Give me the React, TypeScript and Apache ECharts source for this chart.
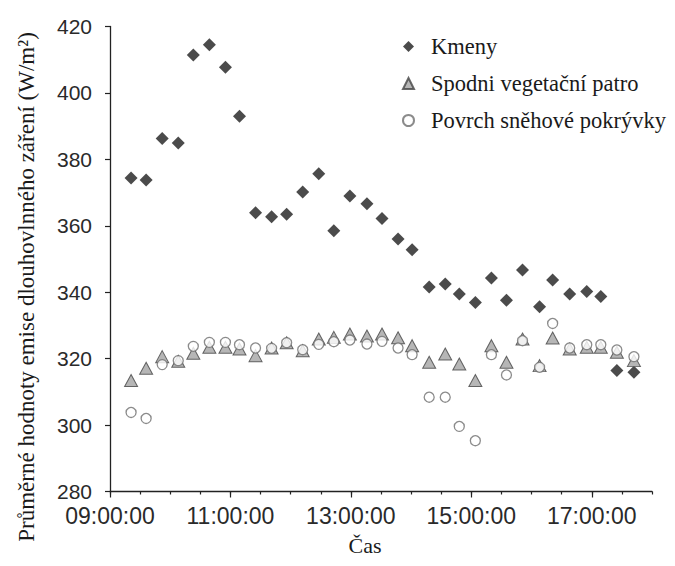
import React, { useEffect, useRef } from "react";
import * as echarts from "echarts";

// Measurement times (HH:MM)
const times = [
  "09:21", "09:36", "09:52", "10:08", "10:23", "10:39", "10:55", "11:09", "11:25", "11:41", "11:56",
  "12:12", "12:28", "12:43", "12:59", "13:16", "13:31", "13:47", "14:01", "14:18", "14:34", "14:48",
  "15:04", "15:20", "15:35", "15:51", "16:08", "16:21", "16:38", "16:55", "17:09", "17:25", "17:42",
];

// Mean long-wave emission (W/m²)
const kmeny = [
  374.4, 373.8, 386.3, 384.9, 411.4, 414.5, 407.7, 393.0, 363.9, 362.7, 363.5,
  370.2, 375.7, 358.5, 369.0, 366.6, 362.2, 356.0, 352.8, 341.6, 342.5, 339.5,
  336.9, 344.3, 337.6, 346.7, 335.6, 343.7, 339.5, 340.2, 338.7, 316.4, 315.9,
];
const spodniPatro = [
  313.4, 317.1, 320.6, 319.2, 321.6, 323.4, 323.4, 322.9, 320.9, 323.2, 324.8,
  322.4, 325.9, 326.4, 327.4, 326.8, 327.4, 326.3, 323.9, 318.9, 321.4, 318.4,
  313.4, 323.9, 318.9, 325.9, 317.9, 326.2, 322.9, 323.4, 323.4, 321.9, 319.4,
];
const povrchSnehu = [
  303.8, 302.0, 318.2, 319.4, 323.7, 324.9, 324.9, 324.2, 323.2, 323.1, 324.8,
  322.7, 324.3, 325.1, 325.6, 324.4, 325.2, 323.2, 321.2, 308.4, 308.4, 299.6,
  295.3, 321.2, 315.1, 325.4, 317.4, 330.6, 323.2, 324.2, 324.2, 322.6, 320.6,
];

const seriesNames = ["Kmeny", "Spodni vegetační patro", "Povrch sněhové pokrývky"];

// Axis ranges: minutes since midnight, W/m²
const xMin = 540; // 09:00
const xMax = 1080; // 18:00
const xLabelTicks = [540, 660, 780, 900, 1020];
const yMin = 280;
const yMax = 420;
const yStep = 20;

const toMinutes = (t: string) => {
  const [h, m] = t.split(":").map(Number);
  return h * 60 + m;
};
const pad2 = (n: number) => String(n).padStart(2, "0");
const fmtTime = (v: number) => `${pad2(Math.floor(v / 60))}:${pad2(v % 60)}:00`;

const pairs = (vals: number[]) => vals.map((v, i) => [toMinutes(times[i]), v]);

const SERIF = "'Liberation Serif', 'DejaVu Serif', serif";
const SANS = "'Liberation Sans', Arial, sans-serif";

export default function App() {
  const ref = useRef<HTMLDivElement>(null);

  useEffect(() => {
    if (!ref.current) return;
    const chart = echarts.init(ref.current, null, { renderer: "svg" });
    chart.setOption({
      animation: false,
      backgroundColor: "#ffffff",
      grid: { left: 110, right: 23, top: 26.5, bottom: 74.5 },
      legend: {
        orient: "vertical",
        left: 397,
        top: 30,
        itemGap: 14,
        itemWidth: 11,
        itemHeight: 11,
        data: seriesNames,
        textStyle: { fontFamily: SERIF, fontSize: 22.5, color: "#1a1a1a", padding: [0, 0, 0, 12] },
      },
      xAxis: [
        {
          type: "value",
          position: "bottom",
          min: xMin,
          max: xMax,
          interval: 30,
          name: "Čas",
          nameLocation: "middle",
          nameGap: 43,
          nameTextStyle: { fontFamily: SERIF, fontSize: 22, color: "#1a1a1a", padding: [0, 32, 0, 0] },
          axisLine: { lineStyle: { color: "#222", width: 1.3 } },
          axisTick: { length: 3, lineStyle: { color: "#222", width: 1.2 } },
          axisLabel: {
            customValues: xLabelTicks,
            formatter: (v: number) => fmtTime(v),
            fontFamily: SANS,
            fontSize: 23,
            lineHeight: 22,
            color: "#2a2a2a",
            margin: 13,
          },
          splitLine: { show: false },
        },
        {
          type: "value",
          position: "bottom",
          min: xMin,
          max: xMax,
          interval: 120,
          axisLine: { show: false },
          axisTick: { customValues: xLabelTicks, length: 6, lineStyle: { color: "#222", width: 1.2 } },
          axisLabel: { show: false },
          splitLine: { show: false },
        },
      ],
      yAxis: {
        type: "value",
        min: yMin,
        max: yMax,
        interval: yStep,
        name: "Průměrné hodnoty emise dlouhovlnného záření (W/m²)",
        nameLocation: "middle",
        nameRotate: 90,
        nameGap: 72,
        nameTextStyle: { fontFamily: SERIF, fontSize: 23, color: "#1a1a1a", padding: [0, 56, 0, 0] },
        axisLine: { show: true, lineStyle: { color: "#222", width: 1.3 } },
        axisTick: { show: true, length: 5, lineStyle: { color: "#222", width: 1.2 } },
        axisLabel: { fontFamily: SANS, fontSize: 21, lineHeight: 18, color: "#2a2a2a", margin: 18 },
        splitLine: { show: false },
      },
      series: [
        {
          name: seriesNames[0],
          type: "scatter",
          symbol: "diamond",
          symbolSize: [13, 13],
          itemStyle: { color: "#1e1e1e" },
          data: pairs(kmeny),
        },
        {
          name: seriesNames[1],
          type: "scatter",
          symbol: "triangle",
          symbolSize: [13, 12],
          itemStyle: { color: "#a4a4a4", borderColor: "#444", borderWidth: 1 },
          data: pairs(spodniPatro),
        },
        {
          name: seriesNames[2],
          type: "scatter",
          symbol: "circle",
          symbolSize: 10,
          itemStyle: { color: "#ffffff", borderColor: "#6e6e6e", borderWidth: 1.3 },
          data: pairs(povrchSnehu),
        },
      ],
    });
    return () => chart.dispose();
  }, []);

  return (
    <div
      ref={ref}
      style={{ position: "fixed", left: 0, top: 0, width: 675, height: 566 }}
    />
  );
}
